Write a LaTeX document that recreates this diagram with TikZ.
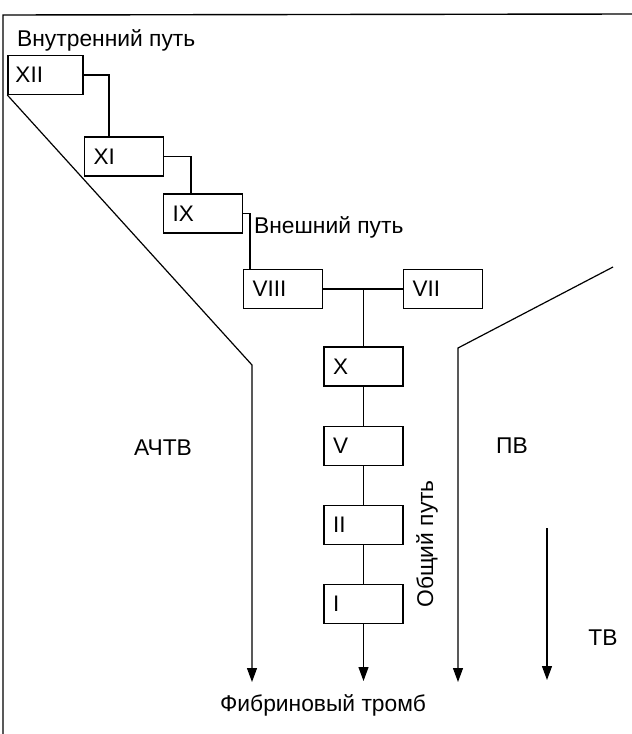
\documentclass[tikz,border=0pt]{standalone}
\usepackage{fontspec}
\setmainfont{Liberation Sans}
\usetikzlibrary{arrows.meta,positioning,calc}
\tikzset{
  fbox/.style={rectangle, draw=black, line width=1.2pt, minimum width=79pt, minimum height=39pt,
               inner sep=0pt, text width=61pt, align=left, font=\fontsize{22.5}{24}\selectfont},
  wire/.style={line width=1.2pt},
  ar/.style={-{Triangle[length=14pt,width=10pt]}, line width=1.2pt},
  lbl/.style={font=\fontsize{22.8}{24}\selectfont, inner sep=0pt},
}

\begin{document}
\begin{tikzpicture}[x=1pt,y=-1pt]
\useasboundingbox[fill=white] (0,0) rectangle (632,734);

% ---- page frame ----
\draw[line width=1.4pt] (632,14) -- (3,15) -- (3,734);

% ================= staircase of factors =================
\node[fbox, minimum width=75pt, text width=60pt] (xii) at (45.5,75) {XII};
\node[fbox] (xi)   at (124,156.5) {XI};
\node[fbox] (ix)   at (203,213.5) {IX};
\node[fbox] (viii) at (283,289)   {VIII};
\node[fbox, right=80pt of viii] (vii) {VII};

\draw[wire] (xii.east) -| ($(xi.north west)+(25,0)$);
\draw[wire] (xi.east)  -| ($(ix.north west)+(28,0)$);
\draw[wire] (ix.east)  -| ($(viii.north west)+(7,0)$);

\node[lbl, anchor=west] (intr) at (17,40) {Внутренний путь};
\node[lbl, anchor=west] (extr) at (254,227) {Внешний путь};

% ================= common pathway =================
\node[fbox] (x) at (363.5,366.5) {X};
\node[fbox, below=39pt of x]  (v)   {V};
\node[fbox, below=39pt of v]  (ii)  {II};
\node[fbox, below=39pt of ii] (i)   {I};

\draw[wire] (viii.east) -- (vii.west);
\coordinate (jn) at (viii.east -| x.north);
\draw[wire] (jn) -- (x.north);
\foreach \a/\b in {x/v, v/ii, ii/i} {\draw[wire] (\a) -- (\b);}

\coordinate (endc) at (363.5,681);
\draw[ar] (i) -- (endc);

\node[lbl, rotate=90] (comm) at (427,544) {Общий путь};

% ================= test pathways =================
\coordinate (ka) at (252,365);
\coordinate (enda) at (252,682);
\draw[ar] (xii.south west) -- (ka) -- (enda);

\coordinate (pa) at (613,267);
\coordinate (kp) at (458,348);
\coordinate (endp) at (458,682);
\draw[ar] (pa) -- (kp) -- (endp);

\coordinate (tt) at (547,528);
\coordinate (endt) at (547,680);
\draw[ar] (tt) -- (endt);

\node[lbl] (achtv) at (163,448) {АЧТВ};
\node[lbl] (pv)    at (512,446) {ПВ};
\node[lbl] (tv)    at (603,638) {ТВ};

\node[lbl] (fib) at (323,705) {Фибриновый тромб};

\end{tikzpicture}
\end{document}
